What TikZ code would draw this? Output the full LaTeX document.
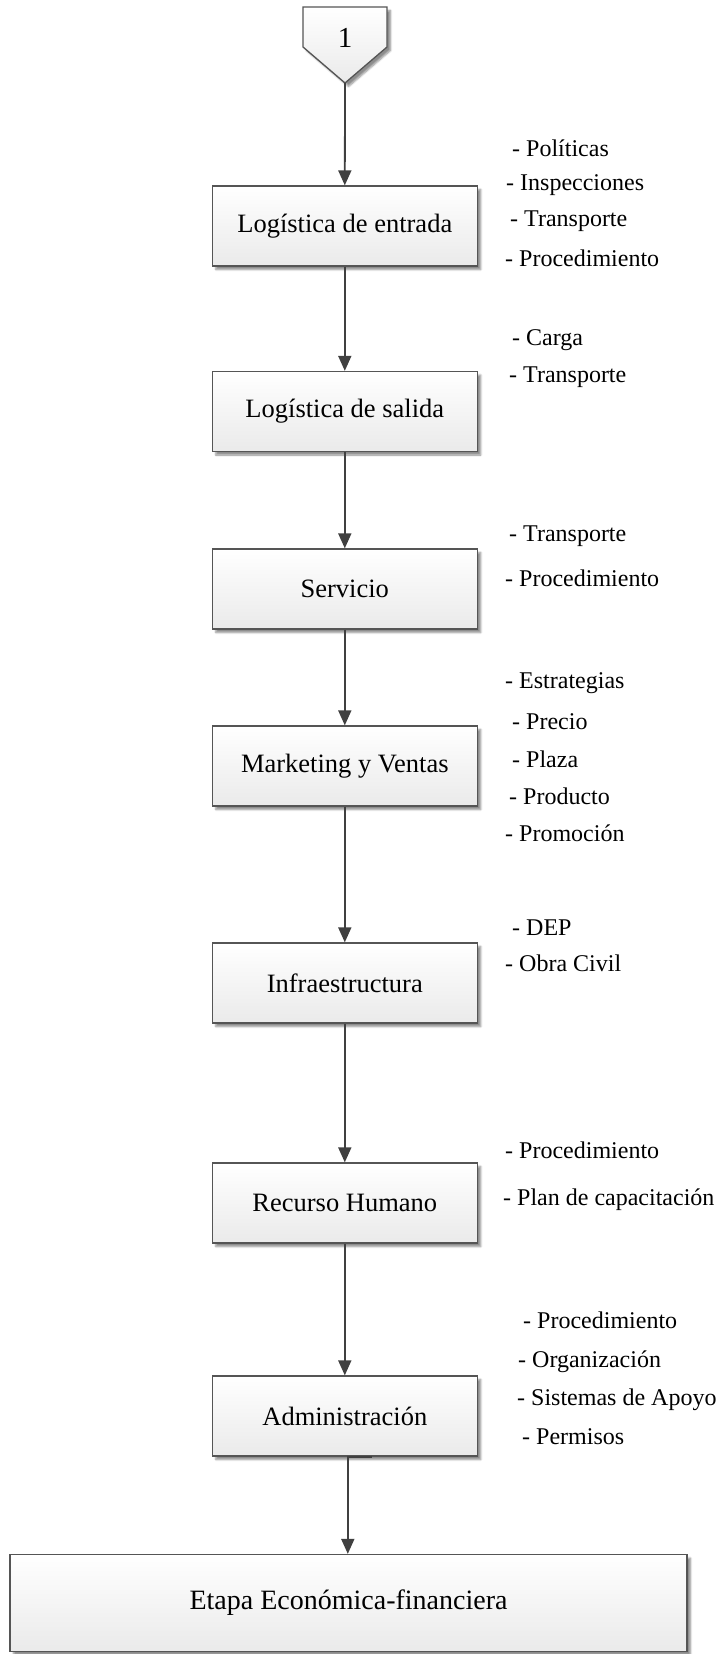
\documentclass[tikz,border=0pt]{standalone}
\usepackage{fontspec}
\setmainfont{Liberation Serif}
\usetikzlibrary{arrows.meta,shadows.blur}

\definecolor{edge}{HTML}{555555}
\definecolor{wire}{HTML}{404040}
\definecolor{boxbottom}{HTML}{EAEAEA}

\tikzset{
  stage/.style={draw=edge, line width=1.3pt, top color=white, bottom color=boxbottom,
    minimum width=265pt, minimum height=80pt, inner sep=0pt,
    font=\fontsize{26.5}{30}\selectfont,
    blur shadow={shadow xshift=3.5pt, shadow yshift=-3.5pt, shadow blur steps=6, shadow opacity=45}},
  note/.style={anchor=west, inner sep=0pt, font=\fontsize{24}{28}\selectfont},
  flow/.style={draw=wire, line width=1.8pt, -{Triangle[length=15pt,width=13pt]}},
}

\begin{document}
\begin{tikzpicture}[x=1pt,y=-1pt]
\useasboundingbox (0,0) rectangle (719,1654);

% off-page connector
\path[draw=edge, line width=1.3pt, top color=white, bottom color=boxbottom,
  blur shadow={shadow xshift=3.5pt, shadow yshift=-3.5pt, shadow blur steps=6, shadow opacity=45}]
  (303,7) -- (387,7) -- (387,47) -- (345,83) -- (303,47) -- cycle;
\node[inner sep=0pt, font=\fontsize{29}{32}\selectfont] (pg) at (345,38) {1};
\coordinate (pgtip) at (345,83);

% stages
\node[stage] (b1) at (344.8,226) {Logística de entrada};
\node[stage] (b2) at (344.8,411.5) {Logística de salida};
\node[stage] (b3) at (344.8,589) {Servicio};
\node[stage] (b4) at (344.8,766) {Marketing y Ventas};
\node[stage] (b5) at (344.8,983) {Infraestructura};
\node[stage] (b6) at (344.8,1203) {Recurso Humano};
\node[stage] (b7) at (344.8,1416) {Administración};
\node[stage, minimum width=677pt, minimum height=97pt, font=\fontsize{28}{32}\selectfont] (b8) at (348.5,1603) {Etapa Económica-financiera};

% connectors
\draw[flow] (pgtip) -- (b1.north);
\draw[flow] (b1.south) -- (b2.north);
\draw[flow] (b2.south) -- (b3.north);
\draw[flow] (b3.south) -- (b4.north);
\draw[flow] (b4.south) -- (b5.north);
\draw[flow] (b5.south) -- (b6.north);
\draw[flow] (b6.south) -- (b7.north);
\coordinate (stub) at ([xshift=27pt]b7.south);
\coordinate (drop) at ([xshift=3pt]b7.south);
\draw[flow] (stub) -- (drop) -- (drop |- b8.north);

% notes
\node[note] (n11) at (512,148) {- Políticas};
\node[note] (n12) at (506,185) {- Inspecciones};
\node[note] (n13) at (510,221) {- Transporte};
\node[note] (n14) at (505,258) {- Procedimiento};

\node[note] (n21) at (512,340) {- Carga};
\node[note] (n22) at (509,377) {- Transporte};

\node[note] (n31) at (509,536) {- Transporte};
\node[note] (n32) at (505,578) {- Procedimiento};

\node[note] (n41) at (505,683) {- Estrategias};
\node[note] (n42) at (512,722) {- Precio};
\node[note] (n43) at (512,759) {- Plaza};
\node[note] (n44) at (509,796) {- Producto};
\node[note] (n45) at (505,833) {- Promoción};

\node[note] (n51) at (512,928) {- DEP};
\node[note] (n52) at (505,963) {- Obra Civil};

\node[note] (n61) at (505,1150) {- Procedimiento};
\node[note] (n62) at (503,1200) {- Plan de capacitación};

\node[note] (n71) at (523,1320) {- Procedimiento};
\node[note] (n72) at (518,1362) {- Organización};
\node[note] (n73) at (517,1400) {- Sistemas de Apoyo};
\node[note] (n74) at (522,1437) {- Permisos};
\end{tikzpicture}
\end{document}
